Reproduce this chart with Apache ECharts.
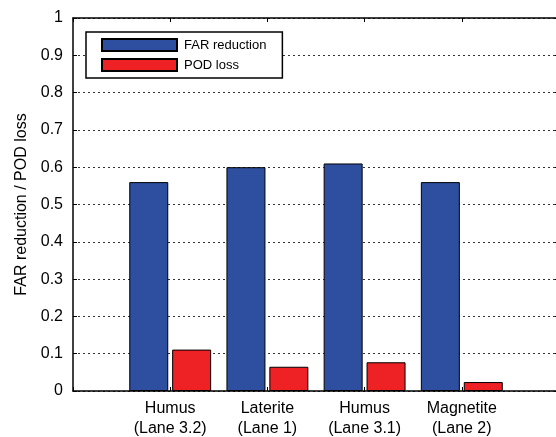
<!DOCTYPE html>
<html>
<head>
<meta charset="utf-8">
<script src="https://cdn.jsdelivr.net/npm/echarts@6/dist/echarts.min.js"></script>
<style>
  html, body { margin: 0; padding: 0; background: #fff; }
  #chart { width: 556px; height: 437px; }
</style>
</head>
<body>
<div id="chart"></div>
<script>
// data
var categories = ['Humus\n(Lane 3.2)', 'Laterite\n(Lane 1)', 'Humus\n(Lane 3.1)', 'Magnetite\n(Lane 2)'];
var positions = [1, 2, 3, 4];
var farReduction = [0.56, 0.60, 0.61, 0.56];
var podLoss = [0.111, 0.065, 0.077, 0.024];
var yTicks = [0, 0.1, 0.2, 0.3, 0.4, 0.5, 0.6, 0.7, 0.8, 0.9, 1];

var chart = echarts.init(document.getElementById('chart'));

function pairs(vals) {
    var res = [];
    for (var i = 0; i < vals.length; i++) {
        res.push([positions[i], vals[i]]);
    }
    return res;
}

var font = 'Liberation Sans';
var tickColor = '#000';

var option = {
    animation: false,
    textStyle: { fontFamily: font },
    // right edge of the box falls just outside the picture, as in the original
    grid: { left: 73, top: 18, right: -3, bottom: 46, outerBoundsMode: 'none', containLabel: false },
    legend: {
        orient: 'vertical',
        left: 86,
        top: 32,
        padding: [6, 16, 6, 15],
        itemWidth: 75,
        itemHeight: 12,
        itemGap: 6,
        icon: 'rect',
        backgroundColor: '#fff',
        borderColor: '#000',
        borderWidth: 1.5,
        borderRadius: 0,
        textStyle: { fontFamily: font, fontSize: 13, color: '#000', padding: [0, 0, 0, 2] },
        data: ['FAR reduction', 'POD loss']
    },
    xAxis: [
        {
            type: 'value',
            min: 0, max: 5, interval: 1,
            position: 'bottom',
            axisLine: { onZero: false, lineStyle: { color: '#000', width: 1.5 } },
            axisTick: { inside: true, length: 4, lineStyle: { color: tickColor } },
            splitLine: { show: false },
            axisLabel: {
                color: '#000', fontSize: 16, lineHeight: 20, margin: 8,
                fontFamily: font,
                formatter: function (v) { return categories[v - 1] || ''; }
            }
        },
        {
            type: 'value',
            min: 0, max: 5, interval: 1,
            position: 'top',
            axisLine: { onZero: false, lineStyle: { color: '#000', width: 1.5 } },
            axisTick: { inside: true, length: 4, lineStyle: { color: tickColor } },
            splitLine: { show: false },
            axisLabel: { show: false }
        }
    ],
    yAxis: [
        {
            type: 'value',
            min: 0, max: 1, interval: 0.1,
            position: 'left',
            name: 'FAR reduction / POD loss',
            nameLocation: 'middle',
            nameGap: 41,
            nameTextStyle: { fontFamily: font, fontSize: 16, color: '#000' },
            axisLine: { show: true, onZero: false, lineStyle: { color: '#000', width: 1.5 } },
            axisTick: { show: true, inside: true, length: 4, lineStyle: { color: tickColor } },
            axisLabel: {
                color: '#000', fontSize: 16, margin: 10, fontFamily: font,
                formatter: function (v) {
                    for (var i = 0; i < yTicks.length; i++) {
                        if (Math.abs(yTicks[i] - v) < 1e-6) return String(yTicks[i]);
                    }
                    return '';
                }
            },
            splitLine: { show: true, lineStyle: { color: '#333', type: [2, 3], width: 1 } }
        },
        {
            type: 'value',
            min: 0, max: 1, interval: 0.1,
            position: 'right',
            axisLine: { show: true, onZero: false, lineStyle: { color: '#000', width: 1.5 } },
            axisTick: { show: true, inside: true, length: 4, lineStyle: { color: tickColor } },
            axisLabel: { show: false },
            splitLine: { show: false }
        }
    ],
    series: [
        {
            name: 'FAR reduction',
            type: 'bar',
            xAxisIndex: 0,
            yAxisIndex: 0,
            barWidth: 39,
            barGap: '10%',
            data: pairs(farReduction),
            itemStyle: { color: '#2E4FA0', borderColor: '#000', borderWidth: 1 }
        },
        {
            name: 'POD loss',
            type: 'bar',
            xAxisIndex: 0,
            yAxisIndex: 0,
            barWidth: 39,
            barGap: '10%',
            data: pairs(podLoss),
            itemStyle: { color: '#EE2224', borderColor: '#000', borderWidth: 1 }
        }
    ]
};

chart.setOption(option);
</script>
</body>
</html>
